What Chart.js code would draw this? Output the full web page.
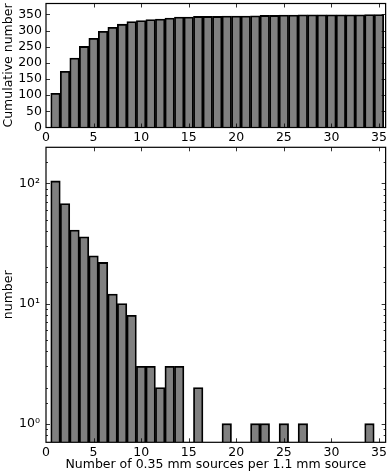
<!DOCTYPE html>
<html><head><meta charset="utf-8">
<script src="https://cdn.jsdelivr.net/npm/chart.js@4/dist/chart.umd.min.js"></script>
<style>
html,body{margin:0;padding:0;background:#fff;}
#w{position:relative;width:390px;height:474px;overflow:hidden;}
#c1{position:absolute;left:0;top:0;}
#c2{position:absolute;left:0;top:143px;}
</style></head><body>
<div id="w"><canvas id="c1" width="390" height="143"></canvas><canvas id="c2" width="390" height="331"></canvas></div>
<script>
// ---- data ----
const binCenters = [1,2,3,4,5,6,7,8,9,10,11,12,13,14,15,16,17,18,19,20,21,22,23,24,25,26,27,28,29,30,31,32,33,34,35];
// number of 1.1 mm sources with N 0.35 mm sources (zero bins = null on log axis)
const counts = [105,68,41,36,25,22,12,10,8,3,3,2,3,3,null,2,null,null,1,null,null,1,1,null,1,null,1,null,null,null,null,null,null,1,null];
// cumulative number
const cumulative = [106,174,215,251,276,298,310,320,328,331,334,336,339,342,342,344,344,344,345,345,345,346,347,347,348,348,349,349,349,349,349,349,349,350,350];
const xTickStep = 5;
const cumTickStep = 50;

const FONT = {family: "'DejaVu Sans', sans-serif", size: 12.5};
const BAR_FILL = '#808080';
const BAR_EDGE = '#000000';

const framePlugin = {
  id: 'frame',
  afterDraw(chart) {
    const {ctx, chartArea: a} = chart;
    const xs = chart.scales.x, ys = chart.scales.y;
    ctx.save();
    ctx.strokeStyle = '#000';
    ctx.lineWidth = 0.8;
    for (const t of xs.ticks) {
      if (t.value <= xs.min || t.value >= xs.max) continue;
      const px = Math.round(xs.getPixelForValue(t.value)) + 0.5;
      ctx.beginPath();
      ctx.moveTo(px, a.bottom); ctx.lineTo(px, a.bottom - 4);
      ctx.moveTo(px, a.top); ctx.lineTo(px, a.top + 4);
      ctx.stroke();
    }
    const isLog = ys.type === 'logarithmic';
    for (const t of ys.ticks) {
      if (t.value <= ys.min || t.value >= ys.max) continue;
      let len = 4;
      if (isLog) {
        const l = Math.log10(t.value);
        len = Math.abs(l - Math.round(l)) < 1e-9 ? 4 : 2;
      }
      const py = Math.round(ys.getPixelForValue(t.value)) + 0.5;
      ctx.beginPath();
      ctx.moveTo(a.left, py); ctx.lineTo(a.left + len, py);
      ctx.moveTo(a.right, py); ctx.lineTo(a.right - len, py);
      ctx.stroke();
    }
    ctx.lineWidth = 1.2;
    ctx.strokeRect(a.left, a.top, a.right - a.left, a.bottom - a.top);
    ctx.restore();
  }
};

function fixY(w) { return function(scale){ scale.width = w; scale.paddingTop = 0; scale.paddingBottom = 0; }; }
function fixX(h) { return function(scale){ scale.height = h; }; }

const xCommon = (h, withTitle) => ({
  type: 'linear', min: 0, max: 35.7, offset: false,
  grid: {display: false, drawTicks: false}, border: {display: false},
  ticks: {stepSize: xTickStep, includeBounds: false, autoSkip: false, maxRotation: 0, color: '#000', font: FONT, padding: 3},
  title: withTitle ? {display: true, text: 'Number of 0.35 mm sources per 1.1 mm source', color: '#000', font: FONT, padding: {top: 0, bottom: 2}} : {display: false},
  afterFit: fixX(h)
});

new Chart(document.getElementById('c1'), {
  type: 'bar',
  data: {datasets: [{
    data: binCenters.map((x, i) => ({x: x, y: cumulative[i]})),
    backgroundColor: BAR_FILL, borderColor: BAR_EDGE, borderWidth: 1.8,
    barPercentage: 1, categoryPercentage: 1
  }]},
  options: {
    responsive: false, animation: false, devicePixelRatio: 1,
    layout: {padding: {left: 0, right: 4, top: 3.5, bottom: 0}},
    plugins: {legend: {display: false}, tooltip: {enabled: false}},
    scales: {
      x: xCommon(15.5, false),
      y: {
        type: 'linear', min: 0, max: 384,
        grid: {display: false, drawTicks: false}, border: {display: false},
        ticks: {stepSize: cumTickStep, includeBounds: false, autoSkip: false, color: '#000', font: FONT, padding: 4},
        title: {display: true, text: 'Cumulative number', color: '#000', font: FONT, padding: {top: 1, bottom: 0}},
        afterFit: fixY(46)
      }
    }
  },
  plugins: [framePlugin]
});

const sup = ['\u2070', '\u00B9', '\u00B2', '\u00B3'];
new Chart(document.getElementById('c2'), {
  type: 'bar',
  data: {datasets: [{
    data: binCenters.map((x, i) => ({x: x, y: counts[i]})),
    backgroundColor: BAR_FILL, borderColor: BAR_EDGE, borderWidth: 1.8,
    barPercentage: 1, categoryPercentage: 1
  }]},
  options: {
    responsive: false, animation: false, devicePixelRatio: 1,
    layout: {padding: {left: 0, right: 4, top: 4.3, bottom: 0}},
    plugins: {legend: {display: false}, tooltip: {enabled: false}},
    scales: {
      x: xCommon(31.7, true),
      y: {
        type: 'logarithmic', min: 0.7, max: 200,
        grid: {display: false, drawTicks: false}, border: {display: false},
        ticks: {
          autoSkip: false, color: '#000', font: FONT, padding: 6,
          callback: function(v) {
            const l = Math.log10(v);
            const r = Math.round(l);
            return Math.abs(l - r) < 1e-9 ? '10' + sup[r] : '';
          }
        },
        title: {display: true, text: 'number', color: '#000', font: FONT, padding: {top: 1, bottom: 0}},
        afterFit: fixY(46)
      }
    }
  },
  plugins: [framePlugin]
});
</script>
</body></html>
